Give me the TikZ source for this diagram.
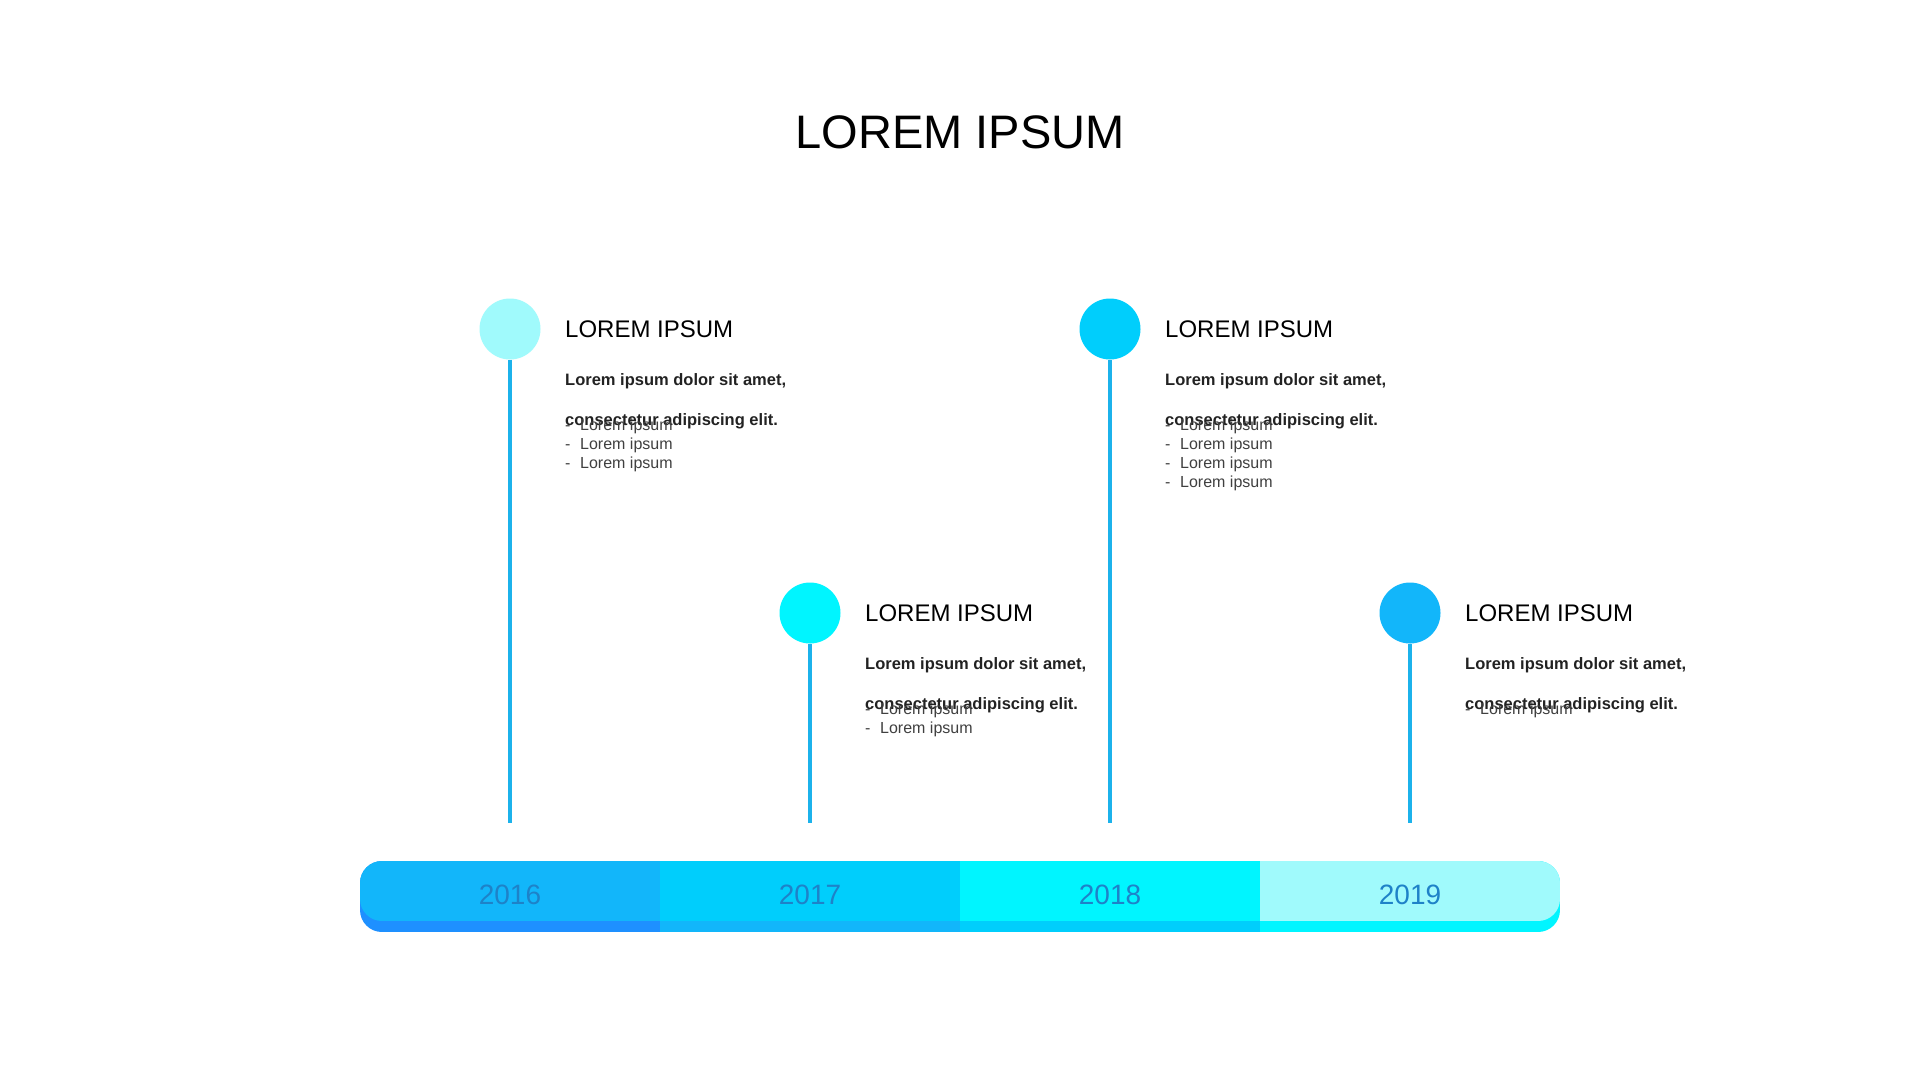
\documentclass[tikz,border=0pt]{standalone}
\usepackage{fontspec}
\setmainfont{Liberation Sans}
\usetikzlibrary{positioning}
\definecolor{BarA}{RGB}{18,182,250}
\definecolor{BarB}{RGB}{0,206,252}
\definecolor{BarC}{RGB}{0,245,255}
\definecolor{BarD}{RGB}{160,250,252}
\definecolor{BarS}{RGB}{30,144,255}
\definecolor{Stem}{RGB}{28,178,235}
\definecolor{YearT}{RGB}{30,130,200}
\definecolor{BodyT}{RGB}{34,34,34}
\definecolor{BulT}{RGB}{64,64,64}
\tikzset{
  dot/.style={circle,minimum size=61pt,inner sep=0pt},
  stem/.style={draw=Stem,line width=4pt},
  titletxt/.style={anchor=base,inner sep=0pt,font=\fontsize{47}{52}\selectfont},
  headtxt/.style={anchor=base west,inner sep=0pt,font=\fontsize{24}{28}\selectfont},
  boldtxt/.style={anchor=base west,inner sep=0pt,text=BodyT,font=\fontsize{16.5}{20}\selectfont\bfseries},
  bultxt/.style={anchor=base west,inner sep=0pt,text=BulT,font=\fontsize{16}{19}\selectfont},
  yeartxt/.style={anchor=base,inner sep=0pt,text=YearT,font=\fontsize{28}{32}\selectfont}
}
\newcommand{\bdash}{\makebox[15pt][l]{-}}

\begin{document}
\begin{tikzpicture}[x=1pt,y=-1pt]
\useasboundingbox (0,0) rectangle (1920,1080);
\fill[white] (0,0) rectangle (1920,1080);
\node[titletxt] (title) at (960,148) {LOREM IPSUM};
% timeline bar
\begin{scope}
\clip[rounded corners=22pt] (360,861) rectangle (1560,932);
\fill[BarS] (360,861) rectangle (660,932);
\fill[BarA] (660,861) rectangle (960,932);
\fill[BarB] (960,861) rectangle (1260,932);
\fill[BarC] (1260,861) rectangle (1560,932);
\end{scope}
\begin{scope}
\clip[rounded corners=22pt] (360,861) rectangle (1560,921);
\fill[BarA] (360,861) rectangle (660,921);
\fill[BarB] (660,861) rectangle (960,921);
\fill[BarC] (960,861) rectangle (1260,921);
\fill[BarD] (1260,861) rectangle (1560,921);
\end{scope}
\node[yeartxt] (y16) at (510,904) {2016};
\node[yeartxt] (y17) at (810,904) {2017};
\node[yeartxt] (y18) at (1110,904) {2018};
\node[yeartxt] (y19) at (1410,904) {2019};
% 2016
\node[dot,fill=BarD] (d16) at (510,329) {};
\coordinate (s16) at (510,823);
\draw[stem] (d16) -- (s16);
\node[headtxt] (h16) at (565,337) {LOREM IPSUM};
\node[boldtxt] (p16a) at ([yshift=-48pt]h16.base west) {Lorem ipsum dolor sit amet,};
\node[boldtxt] (p16b) at ([yshift=-40pt]p16a.base west) {consectetur adipiscing elit.};
\node[bultxt] (b16a) at ([yshift=-45pt]p16a.base west) {\bdash Lorem ipsum};
\node[bultxt] (b16b) at ([yshift=-19pt]b16a.base west) {\bdash Lorem ipsum};
\node[bultxt] (b16c) at ([yshift=-19pt]b16b.base west) {\bdash Lorem ipsum};
% 2017
\node[dot,fill=BarC] (d17) at (810,613) {};
\coordinate (s17) at (810,823);
\draw[stem] (d17) -- (s17);
\node[headtxt] (h17) at (865,621) {LOREM IPSUM};
\node[boldtxt] (p17a) at ([yshift=-48pt]h17.base west) {Lorem ipsum dolor sit amet,};
\node[boldtxt] (p17b) at ([yshift=-40pt]p17a.base west) {consectetur adipiscing elit.};
\node[bultxt] (b17a) at ([yshift=-45pt]p17a.base west) {\bdash Lorem ipsum};
\node[bultxt] (b17b) at ([yshift=-19pt]b17a.base west) {\bdash Lorem ipsum};
% 2018
\node[dot,fill=BarB] (d18) at (1110,329) {};
\coordinate (s18) at (1110,823);
\draw[stem] (d18) -- (s18);
\node[headtxt] (h18) at (1165,337) {LOREM IPSUM};
\node[boldtxt] (p18a) at ([yshift=-48pt]h18.base west) {Lorem ipsum dolor sit amet,};
\node[boldtxt] (p18b) at ([yshift=-40pt]p18a.base west) {consectetur adipiscing elit.};
\node[bultxt] (b18a) at ([yshift=-45pt]p18a.base west) {\bdash Lorem ipsum};
\node[bultxt] (b18b) at ([yshift=-19pt]b18a.base west) {\bdash Lorem ipsum};
\node[bultxt] (b18c) at ([yshift=-19pt]b18b.base west) {\bdash Lorem ipsum};
\node[bultxt] (b18d) at ([yshift=-19pt]b18c.base west) {\bdash Lorem ipsum};
% 2019
\node[dot,fill=BarA] (d19) at (1410,613) {};
\coordinate (s19) at (1410,823);
\draw[stem] (d19) -- (s19);
\node[headtxt] (h19) at (1465,621) {LOREM IPSUM};
\node[boldtxt] (p19a) at ([yshift=-48pt]h19.base west) {Lorem ipsum dolor sit amet,};
\node[boldtxt] (p19b) at ([yshift=-40pt]p19a.base west) {consectetur adipiscing elit.};
\node[bultxt] (b19a) at ([yshift=-45pt]p19a.base west) {\bdash Lorem ipsum};
\end{tikzpicture}
\end{document}
